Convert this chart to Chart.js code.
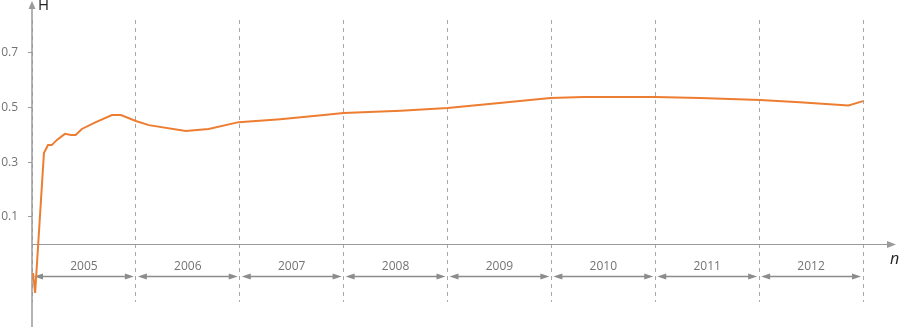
<!DOCTYPE html>
<html><head><meta charset="utf-8">
<script src="https://cdn.jsdelivr.net/npm/chart.js@4/dist/chart.umd.min.js"></script>
<style>html,body{margin:0;padding:0;background:#fff}#wrap{width:900px;height:327px;position:relative}</style>
</head><body><div id="wrap"><canvas id="c"></canvas></div>
<script>
// ---- data ----
const timeYears = [2005.01, 2005.03, 2005.115, 2005.154, 2005.19, 2005.24, 2005.317, 2005.375, 2005.42, 2005.48,
  2005.615, 2005.77, 2005.856, 2006.0, 2006.125, 2006.48, 2006.70, 2006.99, 2007.39, 2007.81, 2008.0,
  2008.55, 2009.0, 2009.5, 2009.99, 2010.31, 2011.0, 2011.43, 2012.01, 2012.39, 2012.86, 2013.0];
const hValues = [-0.105, -0.178, 0.334, 0.363, 0.363, 0.382, 0.404, 0.400, 0.400, 0.422,
  0.447, 0.473, 0.473, 0.451, 0.436, 0.415, 0.422, 0.447, 0.458, 0.473, 0.480,
  0.489, 0.499, 0.517, 0.535, 0.539, 0.539, 0.535, 0.528, 0.520, 0.508, 0.524];
const yearLabels = ['2005', '2006', '2007', '2008', '2009', '2010', '2011', '2012'];
const yearBounds = [2005, 2006, 2007, 2008, 2009, 2010, 2011, 2012, 2013];
const yTickValues = [0.1, 0.3, 0.5, 0.7];
const yAxisTitle = 'H';
const xAxisTitle = 'n';

const AXIS_GRAY = '#9a9a9a';
const TEXT_GRAY = '#737373';

function arrowHead(ctx, tipX, tipY, dir, len, half) {
  ctx.beginPath();
  if (dir === 'up') { ctx.moveTo(tipX, tipY); ctx.lineTo(tipX - half, tipY + len); ctx.lineTo(tipX + half, tipY + len); }
  else if (dir === 'right') { ctx.moveTo(tipX, tipY); ctx.lineTo(tipX - len, tipY - half); ctx.lineTo(tipX - len, tipY + half); }
  else { ctx.moveTo(tipX, tipY); ctx.lineTo(tipX + len, tipY - half); ctx.lineTo(tipX + len, tipY + half); }
  ctx.closePath(); ctx.fill();
}

const axesPlugin = {
  id: 'axesDecor',
  beforeDatasetsDraw(chart) {
    const { ctx, width, height, scales: { x, y } } = chart;
    const ax = x.left;
    const zeroY = Math.round(y.getPixelForValue(0)) + 0.5;
    ctx.save();
    ctx.strokeStyle = AXIS_GRAY; ctx.fillStyle = AXIS_GRAY;
    ctx.lineWidth = 1.5;
    ctx.beginPath(); ctx.moveTo(ax, 6); ctx.lineTo(ax, height); ctx.stroke();
    arrowHead(ctx, ax, 1, 'up', 8, 3.5);
    ctx.lineWidth = 1.2;
    ctx.beginPath(); ctx.moveTo(ax, zeroY); ctx.lineTo(width - 8, zeroY); ctx.stroke();
    arrowHead(ctx, width - 4, zeroY, 'right', 9, 3.5);
    const by = zeroY + 32;
    ctx.strokeStyle = '#8c8c8c'; ctx.fillStyle = '#8c8c8c';
    ctx.lineWidth = 1.5;
    for (let i = 0; i < yearLabels.length; i++) {
      const p0 = x.getPixelForValue(yearBounds[i]) + 2;
      const p1 = x.getPixelForValue(yearBounds[i + 1]) - 2;
      ctx.beginPath(); ctx.moveTo(p0 + 4, by); ctx.lineTo(p1 - 4, by); ctx.stroke();
      arrowHead(ctx, p0, by, 'left', 9, 3);
      arrowHead(ctx, p1, by, 'right', 9, 3);
    }
    ctx.fillStyle = TEXT_GRAY;
    ctx.font = '12px "Open Sans"';
    ctx.textAlign = 'center'; ctx.textBaseline = 'middle';
    for (let i = 0; i < yearLabels.length; i++) {
      const c = (x.getPixelForValue(yearBounds[i]) + x.getPixelForValue(yearBounds[i + 1])) / 2;
      ctx.fillText(yearLabels[i], c, zeroY + 22);
    }
    ctx.fillStyle = '#222';
    ctx.textAlign = 'left'; ctx.textBaseline = 'top';
    ctx.font = '15px "Open Sans"';
    ctx.fillText(yAxisTitle, ax + 6, -2);
    ctx.font = 'italic 16px "Open Sans"';
    ctx.textBaseline = 'alphabetic';
    ctx.fillText(xAxisTitle, width - 10, zeroY + 19);
    ctx.restore();
  }
};

const xMin = 2005, xMax = 2013.356;
new Chart(document.getElementById('c'), {
  type: 'line',
  data: {
    datasets: [{
      data: timeYears.map((t, i) => ({ x: t, y: hValues[i] })),
      borderColor: '#ED7D31',
      borderWidth: 2,
      pointRadius: 0,
      tension: 0,
      fill: false
    }]
  },
  options: {
    responsive: true,
    maintainAspectRatio: false,
    animation: false,
    events: [],
    layout: { padding: { top: 20, bottom: 25, left: 0, right: 0 } },
    plugins: { legend: { display: false }, tooltip: { enabled: false } },
    scales: {
      x: {
        type: 'linear', min: xMin, max: xMax,
        afterBuildTicks: s => { s.ticks = yearBounds.map(v => ({ value: v })); },
        afterFit: s => { s.height = 0; },
        ticks: { display: false },
        border: { display: false, dash: [4, 4] },
        grid: { color: '#a8a8a8', lineWidth: 1, drawTicks: false },
      },
      y: {
        min: -0.2111, max: 0.8207,
        afterBuildTicks: s => { s.ticks = yTickValues.map(v => ({ value: v })); },
        afterFit: s => { s.width = 32; },
        border: { display: false },
        grid: { drawOnChartArea: false, drawTicks: true, tickLength: 4, color: AXIS_GRAY, lineWidth: 1 },
        ticks: { color: TEXT_GRAY, font: { family: 'Open Sans', size: 12 }, padding: 10,
          callback: v => String(v) }
      }
    }
  },
  plugins: [axesPlugin]
});
</script></body></html>
